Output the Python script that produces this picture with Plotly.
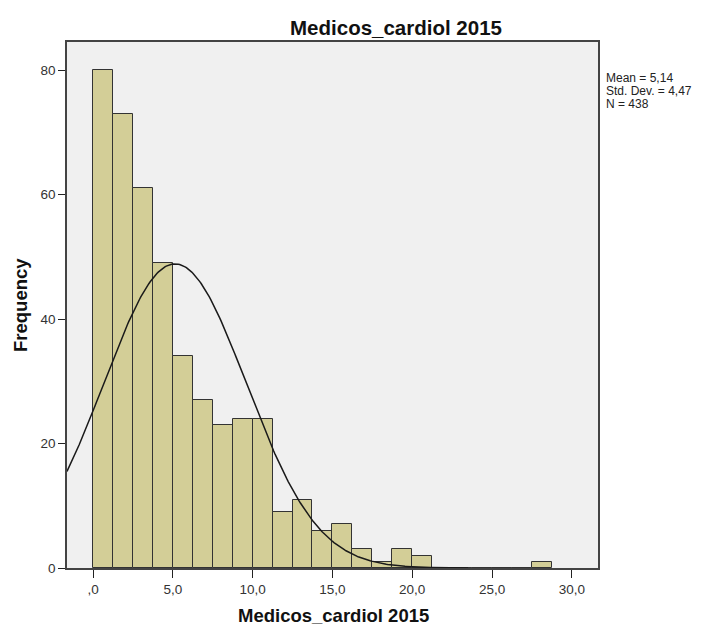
import numpy as np
import plotly.graph_objects as go

# Histogram data (bin width 1.25 starting at 0)
bin_start = 0.0
bin_width = 1.25
counts = [80, 73, 61, 49, 34, 27, 23, 24, 24, 9, 11, 6, 7, 3, 1, 3, 2, 0, 0, 0, 0, 0, 1]

mean_val = 5.14
std_val = 4.47
n_val = 438
stats_lines = ["Mean = 5,14", "Std. Dev. = 4,47", f"N = {n_val}"]

x_tickvals = [0, 5, 10, 15, 20, 25, 30]
x_ticktext = [",0", "5,0", "10,0", "15,0", "20,0", "25,0", "30,0"]
y_tickvals = [0, 20, 40, 60, 80]

centers = [bin_start + bin_width * (i + 0.5) for i in range(len(counts))]

# Fitted normal curve (from reported mean / std / N)
xs = np.linspace(-1.63, 23.5, 300)
ys = n_val * bin_width / (std_val * np.sqrt(2 * np.pi)) * np.exp(-((xs - mean_val) ** 2) / (2 * std_val ** 2))

font_family = "Liberation Sans, Arial, sans-serif"
W, H = 707, 628
L, R, T, B = 67, 109, 42, 60

def px_x(p):
    return (p - L) / (W - L - R)

def px_y(p):
    return 1 - (p - T) / (H - T - B)

fig = go.Figure()
fig.add_trace(go.Bar(
    x=centers, y=counts, width=bin_width,
    marker=dict(color="#d3ce97", line=dict(color="#333333", width=1)),
    showlegend=False, hoverinfo="x+y",
))
fig.add_trace(go.Scatter(
    x=xs, y=ys, mode="lines", line=dict(color="#1a1a1a", width=1.5),
    showlegend=False, hoverinfo="skip",
))

annotations = [
    dict(xref="paper", yref="paper", x=px_x(333), y=px_y(615), xanchor="center", yanchor="middle",
         showarrow=False, text="<b>Medicos_cardiol 2015</b>",
         font=dict(family=font_family, size=18.5, color="#111111")),
    dict(xref="paper", yref="paper", x=px_x(20), y=px_y(305), xanchor="center", yanchor="middle",
         showarrow=False, textangle=-90, text="<b>Frequency</b>",
         font=dict(family=font_family, size=18.5, color="#111111")),
]
for i, line in enumerate(stats_lines):
    annotations.append(dict(
        xref="paper", yref="paper", x=px_x(605), y=px_y(78 + 13.2 * i),
        xanchor="left", yanchor="middle", align="left", showarrow=False,
        borderpad=0,
        text=line, font=dict(family=font_family, size=12, color="#222222"),
    ))

fig.update_layout(
    width=W, height=H,
    margin=dict(l=L, r=R, t=T, b=B, autoexpand=False),
    paper_bgcolor="white",
    plot_bgcolor="#f0f0f0",
    font=dict(family=font_family, size=13, color="#333333"),
    bargap=0,
    title=dict(text="<b>Medicos_cardiol 2015</b>", x=396 / W, xanchor="center",
               y=1 - 27.5 / H, yanchor="middle",
               font=dict(family=font_family, size=20.5, color="#111111")),
    xaxis=dict(
        range=[-1.63, 31.64], tickvals=x_tickvals, ticktext=x_ticktext,
        showgrid=False, zeroline=False, showline=True, mirror=True,
        linecolor="#444444", linewidth=1.5, automargin=False,
        ticks="outside", ticklen=8, tickcolor="#222222",
        tickfont=dict(size=13.5, color="#333333"),
    ),
    yaxis=dict(
        range=[0, 84.5], tickvals=y_tickvals,
        showgrid=False, zeroline=False, showline=True, mirror=True,
        linecolor="#444444", linewidth=1.5, automargin=False,
        ticks="outside", ticklen=7, tickcolor="#222222",
        tickfont=dict(size=13.5, color="#333333"),
    ),
    annotations=annotations,
)

fig.write_html("out.html")
